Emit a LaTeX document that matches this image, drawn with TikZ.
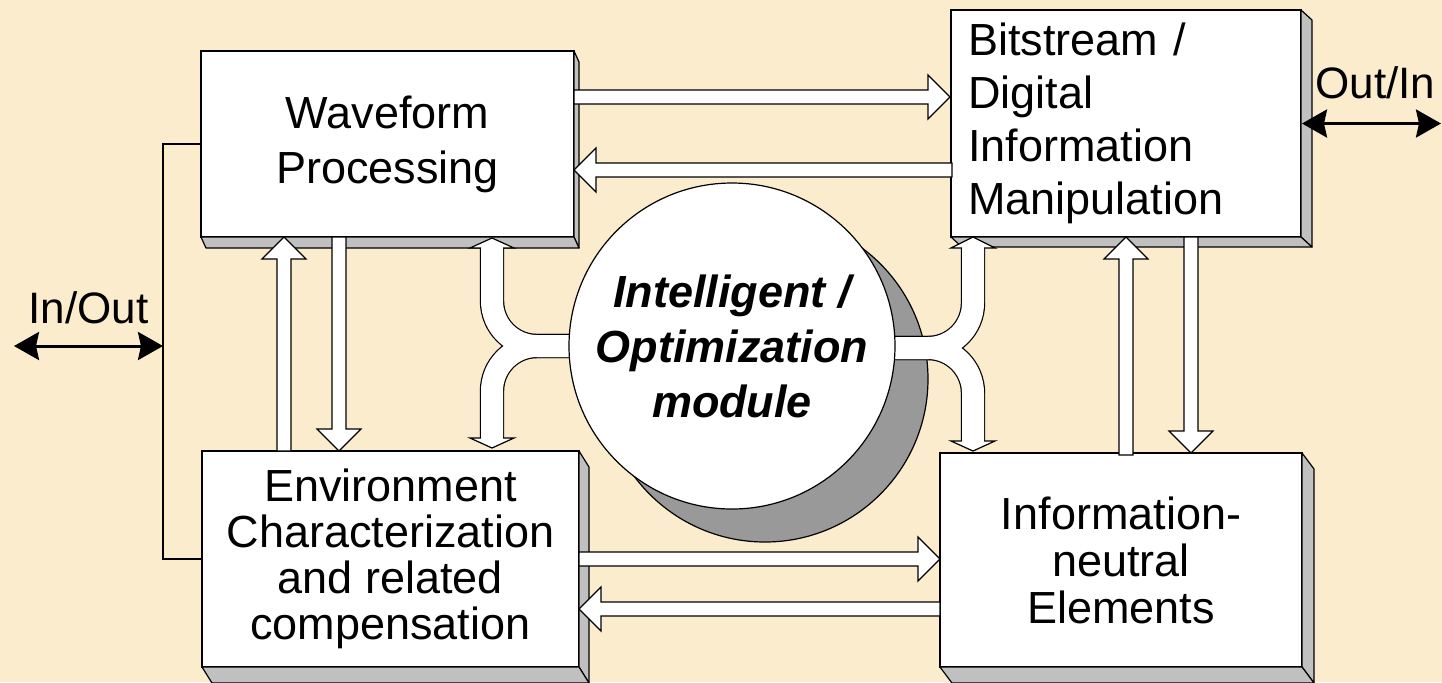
\documentclass[tikz,border=0pt]{standalone}
\usepackage{fontspec}
\setmainfont{Liberation Sans}
\usetikzlibrary{calc,arrows.meta}
\pgfdeclarelayer{under}
\pgfdeclarelayer{over}
\pgfsetlayers{under,main,over}

\definecolor{paper}{RGB}{250,236,204}
\definecolor{bevelgray}{RGB}{192,192,192}
\definecolor{shadowgray}{RGB}{153,153,153}

\tikzset{
  x=0.5pt, y=-0.5pt,
  outline/.style={draw=black, line width=0.6pt},
  block/.style={outline, fill=white, inner sep=0pt, outer sep=0pt,
    font=\fontsize{22.5}{27.5}\selectfont, align=center},
  bevelface/.style={outline, fill=bevelgray, line join=round},
  barrow/.style={outline, fill=white, line join=miter},
  forkedge/.style={black, line width=12.2pt, rounded corners=22.5pt},
  forkfill/.style={white, line width=11pt, rounded corners=22.5pt},
  ioarrow/.style={line width=1.5pt,
    {Stealth[length=12.5pt,width=14pt,inset=1.5pt]}-{Stealth[length=12.5pt,width=14pt,inset=1.5pt]}},
  iolabel/.style={font=\fontsize{22}{26}\selectfont, inner sep=0pt, anchor=base west},
}

% extruded side and bottom faces of a 3-D block
\newcommand\bevel[3]{%
  \filldraw[bevelface] (#1.north east) -- ++(#2,#3) -- ($(#1.south east)+(#2,#3)$) -- (#1.south east) -- cycle;
  \filldraw[bevelface] (#1.south west) -- ++(#2,#3) -- ($(#1.south east)+(#2,#3)$) -- (#1.south east) -- cycle;}

% outlined block arrow from #1 (tail) to #2 (tip)
\newcommand\blockarrow[2]{%
  \filldraw[barrow] let \p1=#1, \p2=#2,
    \n1={veclen(\x2-\x1,\y2-\y1)}, \n2={(\x2-\x1)/\n1}, \n3={(\y2-\y1)/\n1} in
    ({\x1-3.5*\n3},{\y1+3.5*\n2})
    -- ({\x2-11*\n2-3.5*\n3},{\y2-11*\n3+3.5*\n2})
    -- ({\x2-11*\n2-11*\n3},{\y2-11*\n3+11*\n2})
    -- (\p2)
    -- ({\x2-11*\n2+11*\n3},{\y2-11*\n3-11*\n2})
    -- ({\x2-11*\n2+3.5*\n3},{\y2-11*\n3-3.5*\n2})
    -- ({\x1+3.5*\n3},{\y1-3.5*\n2}) -- cycle;}

% short arrow head closing a curved band; #2 = signed head length
\newcommand\forkhead[2]{%
  \filldraw[barrow] let \p1=#1 in
    ({\x1-5.5pt},\y1) -- ({\x1-11pt},\y1) -- (\x1,{\y1+(#2)})
    -- ({\x1+11pt},\y1) -- ({\x1+5.5pt},\y1);}

\begin{document}
\begin{tikzpicture}
\useasboundingbox (0,0) rectangle (1442,682);

% central module
\begin{pgfonlayer}{over}
  \node[circle, outline, fill=white, minimum size=163pt, inner sep=0pt,
        font=\fontsize{22.5}{27.5}\selectfont\bfseries\itshape, align=center]
        (opt) at (732,346) {Intelligent /\\Optimization\\module};
\end{pgfonlayer}

\begin{pgfonlayer}{under}
  \fill[paper] (0,0) rectangle (1442,682);
  \filldraw[fill=shadowgray, outline] ($(opt.center)+(33,33)$) circle[radius=81.5pt];
\end{pgfonlayer}

% processing blocks
\node[block, minimum width=186.5pt, minimum height=93pt] (wave) at (387.5,144)
  {Waveform\\Processing};
\node[block, minimum width=175pt, minimum height=113.5pt, text width=158pt,
      inner xsep=8.5pt, align=left, font=\fontsize{22.5}{26.5}\selectfont]
  (bits) at (1126,123.5) {Bitstream /\\Digital\\Information\\Manipulation};
\node[block, minimum width=188.5pt, minimum height=108pt,
      font=\fontsize{22.5}{23}\selectfont] (envc) at (390.5,559)
  {Environment\\Characterization\\and related\\compensation};
\node[block, minimum width=181pt, minimum height=107pt,
      font=\fontsize{22.5}{23.5}\selectfont] (info) at (1121,560)
  {Information-\\neutral\\Elements};

\bevel{wave}{5}{11}
\bevel{bits}{11}{10}
\bevel{envc}{10}{16}
\bevel{info}{12}{16}

% links between the blocks
\blockarrow{($(wave.north east)+(0,46)$)}{($(bits.north west)+(-1,87)$)}
\blockarrow{($(bits.north west)+(1,160)$)}{($(wave.north east)+(0,119)$)}
\blockarrow{(envc.east)}{(info.west |- envc.east)}
\blockarrow{($(info.north west)+(0,156)$)}{($(envc.north east)+(0,158)$)}
\blockarrow{($(envc.north west)+(82,0)$)}{($(wave.south west)+(83,0)$)}
\blockarrow{($(wave.south west)+(138,0)$)}{($(envc.north west)+(137,0)$)}
\blockarrow{($(info.north west)+(186,2)$)}{(bits.south)}
\blockarrow{($(bits.south west)+(240,0)$)}{($(info.north west)+(251,0)$)}

% forked links from the module
\coordinate (lstem) at ($(opt.west)+(8,0)$);
\coordinate (rstem) at ($(opt.east)+(-8,2)$);
\coordinate (lup)   at ($(wave.south west)+(291,11)$);
\coordinate (ldown) at ($(envc.north west)+(290,-13)$);
\coordinate (rup)   at ($(bits.south west)+(22,11)$);
\coordinate (rdown) at ($(info.north west)+(33,-12)$);
\foreach \s/\e in {lstem/lup, lstem/ldown, rstem/rup, rstem/rdown}
  \draw[forkedge] (\s) -| (\e);
\foreach \s/\e in {lstem/lup, lstem/ldown, rstem/rup, rstem/rdown}
  \draw[forkfill] (\s) -| (\e);
\forkhead{(lup)}{5pt}
\forkhead{(ldown)}{-5pt}
\forkhead{(rup)}{5.5pt}
\forkhead{(rdown)}{-5pt}

% external ports
\coordinate (bus) at (163,346);
\coordinate (inend) at (14,346);
\coordinate (outend) at (1441,123.5);
\draw[line width=1pt] (wave.west) -| (bus) |- (envc.west);
\draw[ioarrow] (inend) -- (bus);
\draw[ioarrow] ($(bits.east)+(1,0)$) -- (outend);
\node[iolabel] (inlbl) at (28,323) {In/Out};
\node[iolabel] (outlbl) at (1315,98) {Out/In};
\end{tikzpicture}
\end{document}
